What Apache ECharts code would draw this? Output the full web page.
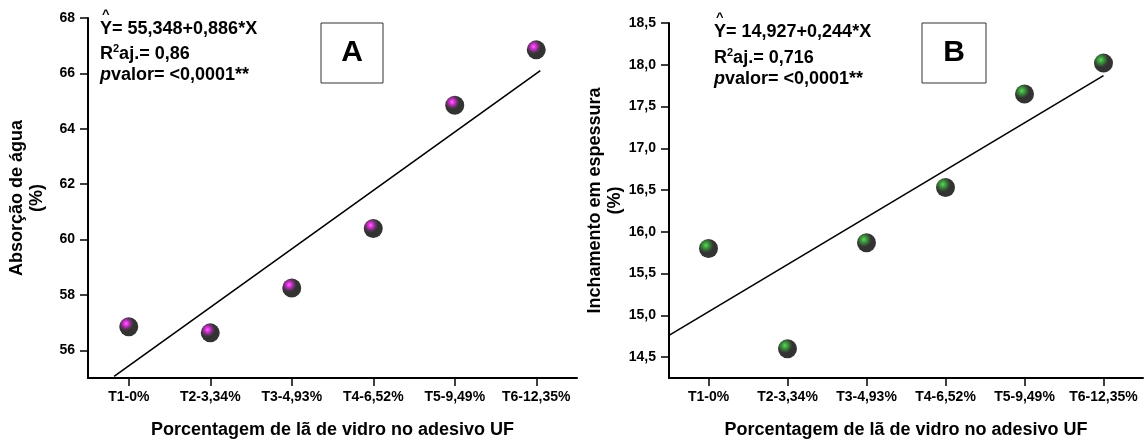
<!DOCTYPE html>
<html>
<head>
<meta charset="utf-8">
<script src="https://cdn.jsdelivr.net/npm/echarts@6/dist/echarts.min.js"></script>
<style>
  html, body { margin: 0; padding: 0; background: #fff; }
  #chart { width: 1145px; height: 444px; }
</style>
</head>
<body>
<div id="chart"></div>
<script>
// Treatments (glass wool content in the UF adhesive)
const categories = ['T1-0%', 'T2-3,34%', 'T3-4,93%', 'T4-6,52%', 'T5-9,49%', 'T6-12,35%'];

// Panel A: water absorption (%)
const absorcao = [56.85, 56.63, 58.25, 60.4, 64.85, 66.85];
const ticksA = [56, 58, 60, 62, 64, 66, 68];
// fitted line endpoints (category index, value)
const trendAx = [-0.18, 5.05];
const trendAy = [55.06, 66.1];

// Panel B: thickness swelling (%)
const inchamento = [15.80, 14.60, 15.87, 16.53, 17.65, 18.02];
const ticksB = [14.5, 15.0, 15.5, 16.0, 16.5, 17.0, 17.5, 18.0, 18.5];
const trendBx = [-0.5, 5.0];
const trendBy = [14.76, 17.87];

const FONT = 'Liberation Sans, Arial, sans-serif';

// glossy black ball with a coloured highlight
function sphere(c0, c1, c2) {
  return {
    type: 'radial', x: 0.36, y: 0.33, r: 0.66,
    colorStops: [
      { offset: 0, color: c0 },
      { offset: 0.16, color: c1 },
      { offset: 0.42, color: c2 },
      { offset: 0.6, color: '#000' },
      { offset: 1, color: '#000' }
    ]
  };
}

const chart = echarts.init(document.getElementById('chart'), null, { renderer: 'canvas' });

function catAxis(grid) {
  return {
    type: 'category', gridIndex: grid, data: categories, boundaryGap: true,
    axisLine: { show: true, onZero: false, lineStyle: { color: '#000', width: 2 } },
    axisTick: { show: true, alignWithLabel: true, interval: 0, inside: false, length: 8,
                lineStyle: { color: '#000', width: 1.5 } },
    axisLabel: { interval: 0, hideOverlap: false, color: '#000', fontFamily: FONT, fontWeight: 'bold',
                 fontSize: 14, margin: 12 },
    name: 'Porcentagem de lã de vidro no adesivo UF',
    nameLocation: 'middle', nameGap: 43,
    nameTextStyle: { color: '#000', fontFamily: FONT, fontWeight: 'bold', fontSize: 18 }
  };
}
function hiddenX(grid) {
  return { type: 'value', gridIndex: grid, min: -0.5, max: 5.5, show: false };
}
function valAxis(grid, min, max, ticks, name, fmt) {
  return {
    type: 'value', gridIndex: grid, min: min, max: max,
    splitLine: { show: false },
    axisLine: { show: true, onZero: false, lineStyle: { color: '#000', width: 2 } },
    axisTick: { show: true, length: 8, customValues: ticks, lineStyle: { color: '#000', width: 1.5 } },
    axisLabel: { color: '#000', fontFamily: FONT, fontWeight: 'bold', fontSize: 14, margin: 13,
                 customValues: ticks, formatter: fmt },
    name: name, nameLocation: 'middle', nameGap: 41, nameRotate: 90,
    nameTextStyle: { color: '#000', fontFamily: FONT, fontWeight: 'bold', fontSize: 18, lineHeight: 20, align: 'center' }
  };
}

function pairs(xs, ys) { return xs.map((x, i) => [x, ys[i]]); }

const eqFont = 'bold 18px ' + FONT;

chart.setOption({
  animation: false,
  backgroundColor: '#fff',
  grid: [
    { left: 88, top: 18, width: 489, height: 367 },
    { left: 669, top: 23, width: 474, height: 362 }
  ],
  xAxis: [catAxis(0), hiddenX(0), catAxis(1), hiddenX(1)],
  yAxis: [
    valAxis(0, 55, 68, ticksA, 'Absorção de água\n(%)', v => String(v)),
    valAxis(1, 14.25, 18.5, ticksB, 'Inchamento em espessura\n(%)', v => v.toFixed(1).replace('.', ','))
  ],
  series: [
    { type: 'line', xAxisIndex: 1, yAxisIndex: 0, data: pairs(trendAx, trendAy), symbol: 'none',
      lineStyle: { color: '#000', width: 1.6 }, z: 2 },
    { type: 'scatter', xAxisIndex: 0, yAxisIndex: 0, data: absorcao, symbolSize: 19,
      itemStyle: { color: sphere('#ff4dff', '#e000e0', '#3c003c') }, z: 3 },
    { type: 'line', xAxisIndex: 3, yAxisIndex: 1, data: pairs(trendBx, trendBy), symbol: 'none',
      lineStyle: { color: '#000', width: 1.6 }, z: 2 },
    { type: 'scatter', xAxisIndex: 2, yAxisIndex: 1, data: inchamento, symbolSize: 19,
      itemStyle: { color: sphere('#3ccc3c', '#149814', '#033803') }, z: 3 }
  ],
  graphic: [
    // panel letters
    { type: 'rect', shape: { x: 321, y: 23, width: 62, height: 60 },
      style: { fill: '#fff', stroke: '#333', lineWidth: 1 } },
    { type: 'text', x: 352, y: 53, style: { text: 'A', font: 'bold 30px ' + FONT, fill: '#000', align: 'center', verticalAlign: 'middle' } },
    { type: 'rect', shape: { x: 922, y: 23, width: 64, height: 60 },
      style: { fill: '#fff', stroke: '#333', lineWidth: 1 } },
    { type: 'text', x: 954, y: 53, style: { text: 'B', font: 'bold 30px ' + FONT, fill: '#000', align: 'center', verticalAlign: 'middle' } },

    // regression statistics, panel A
    { type: 'text', x: 102, y: 14, style: { text: '^', font: 'bold 13px ' + FONT, fill: '#000', verticalAlign: 'middle' } },
    { type: 'text', x: 100, y: 29, style: { text: 'Y= 55,348+0,886*X', font: eqFont, fill: '#000', verticalAlign: 'middle' } },
    { type: 'text', x: 100, y: 53, style: {
        text: '{b|R}{s|2}{b|aj.= 0,86}', verticalAlign: 'middle',
        rich: { b: { font: eqFont, fill: '#000', lineHeight: 20, verticalAlign: 'bottom' },
                s: { font: 'bold 11px ' + FONT, fill: '#000', lineHeight: 20, verticalAlign: 'top' } } } },
    { type: 'text', x: 100, y: 75, style: {
        text: '{i|p}{b|valor= <0,0001**}', verticalAlign: 'middle',
        rich: { b: { font: eqFont, fill: '#000' },
                i: { font: 'italic ' + eqFont, fill: '#000' } } } },

    // regression statistics, panel B
    { type: 'text', x: 716, y: 17, style: { text: '^', font: 'bold 13px ' + FONT, fill: '#000', verticalAlign: 'middle' } },
    { type: 'text', x: 714, y: 32, style: { text: 'Y= 14,927+0,244*X', font: eqFont, fill: '#000', verticalAlign: 'middle' } },
    { type: 'text', x: 714, y: 57, style: {
        text: '{b|R}{s|2}{b|aj.= 0,716}', verticalAlign: 'middle',
        rich: { b: { font: eqFont, fill: '#000', lineHeight: 20, verticalAlign: 'bottom' },
                s: { font: 'bold 11px ' + FONT, fill: '#000', lineHeight: 20, verticalAlign: 'top' } } } },
    { type: 'text', x: 714, y: 79, style: {
        text: '{i|p}{b|valor= <0,0001**}', verticalAlign: 'middle',
        rich: { b: { font: eqFont, fill: '#000' },
                i: { font: 'italic ' + eqFont, fill: '#000' } } } }
  ]
});
</script>
</body>
</html>
